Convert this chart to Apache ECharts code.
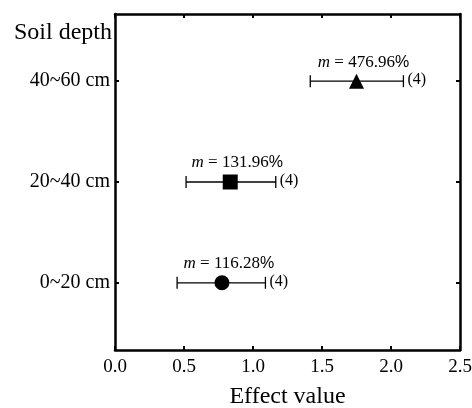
<!DOCTYPE html>
<html>
<head>
<meta charset="utf-8">
<script src="https://cdn.jsdelivr.net/npm/echarts@6/dist/echarts.min.js"></script>
<style>
  html, body { margin: 0; padding: 0; background: #fff; }
  #chart { width: 472px; height: 408px; }
</style>
</head>
<body>
<div id="chart"></div>
<script>
// soil depth layers, bottom to top
const categories = ["0~20 cm", "20~40 cm", "40~60 cm"];
const yPos = [1, 2, 3];
const means = [0.775, 0.835, 1.75];
const lower = [0.45, 0.515, 1.415];
const upper = [1.09, 1.165, 2.09];
const mValues = ["116.28", "131.96", "476.96"];
const counts = [4, 4, 4];
const symbols = ["circle", "rect", "triangle"];

const serif = "Liberation Serif";

let chart = echarts.init(document.getElementById("chart"));

const frameX = {
  type: "value",
  min: 0,
  max: 2.5,
  interval: 0.5,
  axisLine: { show: true, lineStyle: { color: "#000", width: 2.5 } },
  axisTick: { show: true, inside: true, length: 4, lineStyle: { color: "#000", width: 2 } },
  splitLine: { show: false }
};
const frameY = {
  type: "value",
  min: 1 / 3,
  max: 11 / 3,
  axisLine: { show: true, onZero: false, lineStyle: { color: "#000", width: 2.5 } },
  axisTick: { show: true, inside: true, length: 4, customValues: yPos, lineStyle: { color: "#000", width: 2 } },
  splitLine: { show: false }
};

chart.setOption({
  animation: false,
  title: {
    text: "Soil depth",
    left: 9,
    top: 16,
    textStyle: { fontFamily: serif, fontSize: 24, fontWeight: "normal", color: "#000" }
  },
  grid: { left: 115, right: 12, top: 14, bottom: 58, outerBoundsMode: "none", containLabel: false },
  xAxis: [
    Object.assign({}, frameX, {
      position: "bottom",
      name: "Effect value",
      nameLocation: "middle",
      nameGap: 35,
      nameTextStyle: { fontFamily: serif, fontSize: 24, color: "#000" },
      axisLabel: {
        margin: 8,
        fontFamily: serif,
        fontSize: 19,
        color: "#000",
        formatter: v => v.toFixed(1)
      }
    }),
    Object.assign({}, frameX, { position: "top", axisLabel: { show: false } })
  ],
  yAxis: [
    Object.assign({}, frameY, {
      position: "left",
      axisLabel: {
        margin: 5,
        customValues: yPos,
        fontFamily: serif,
        fontSize: 20,
        color: "#000",
        formatter: v => categories[Math.round(v) - 1]
      }
    }),
    Object.assign({}, frameY, { position: "right", axisLabel: { show: false } })
  ],
  series: [
    {
      type: "custom",
      data: yPos.map((y, i) => [y, lower[i], upper[i], counts[i]]),
      encode: { x: [1, 2], y: 0 },
      renderItem: function (params, api) {
        const y = api.value(0);
        const a = api.coord([api.value(1), y]);
        const b = api.coord([api.value(2), y]);
        const h = 6;
        const st = { stroke: "#000", lineWidth: 1.3 };
        return {
          type: "group",
          children: [
            { type: "line", shape: { x1: a[0], y1: a[1], x2: b[0], y2: b[1] }, style: st },
            { type: "line", shape: { x1: a[0], y1: a[1] - h, x2: a[0], y2: a[1] + h }, style: st },
            { type: "line", shape: { x1: b[0], y1: b[1] - h, x2: b[0], y2: b[1] + h }, style: st },
            {
              type: "text",
              style: {
                text: "(" + api.value(3) + ")",
                x: b[0] + 4,
                y: b[1] - 1,
                verticalAlign: "middle",
                font: "16px '" + serif + "'",
                fill: "#000"
              }
            }
          ]
        };
      }
    },
    {
      type: "scatter",
      symbolSize: 15,
      itemStyle: { color: "#000", opacity: 1 },
      data: yPos.map((y, i) => ({ value: [means[i], y], symbol: symbols[i] })),
      label: {
        show: true,
        position: "top",
        distance: 3,
        offset: [7, 0],
        formatter: p => "{i|m} = " + mValues[p.dataIndex] + "{p|%}",
        fontFamily: serif,
        fontSize: 17,
        color: "#000",
        rich: {
          i: { fontFamily: serif, fontStyle: "italic", fontSize: 17, color: "#000" },
          p: { fontFamily: "Liberation Sans", fontSize: 16, color: "#000" }
        }
      }
    }
  ]
});
</script>
</body>
</html>
